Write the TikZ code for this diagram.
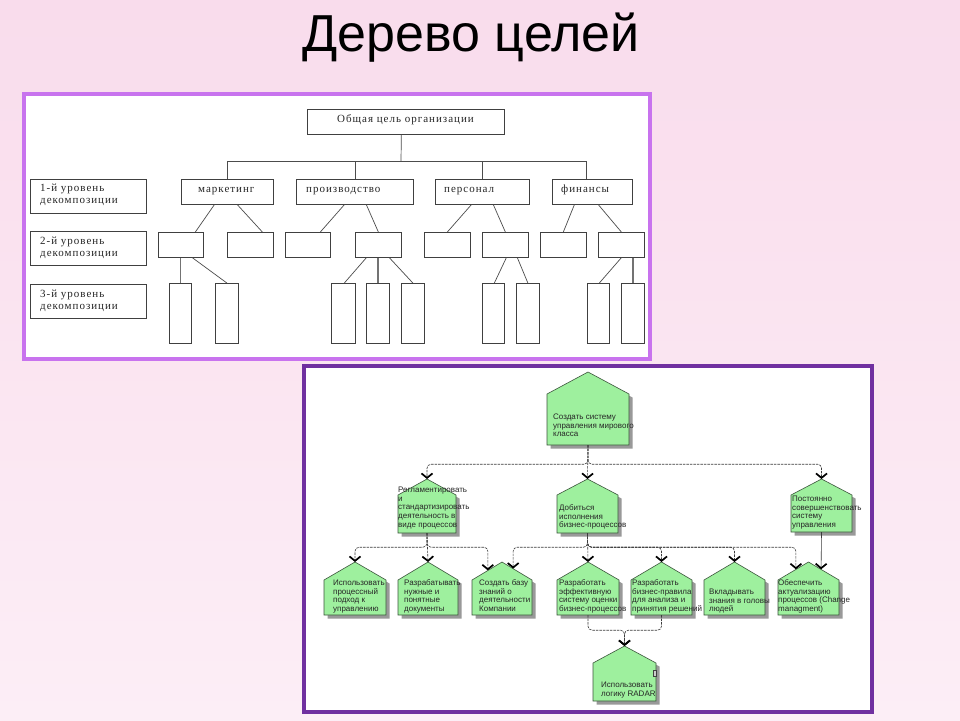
\documentclass[tikz,border=0pt]{standalone}
\usepackage{fontspec}
\setmainfont{Liberation Sans}
\newfontfamily\serf[LetterSpace=9]{Liberation Serif}
\usetikzlibrary{arrows.meta,calc}

\definecolor{bgtop}{RGB}{249,220,236}
\definecolor{bgbot}{RGB}{252,238,246}
\definecolor{frameA}{RGB}{200,115,238}
\definecolor{frameB}{RGB}{112,48,160}
\definecolor{hgreen}{RGB}{158,240,158}
\definecolor{hedge}{RGB}{60,85,60}
\definecolor{lineg}{RGB}{60,60,60}

\tikzset{
 tbox/.style={draw=black!75, line width=0.7pt, fill=white, inner sep=0pt, anchor=north west},
 tline/.style={draw=black!70, line width=0.7pt},
 tvert/.style={draw=black!55, line width=1.6pt},
 stext/.style={font=\serf\fontsize{11}{12}\selectfont, inner sep=0pt, align=left, anchor=north west, text=black!85},
 btext/.style={font=\fontsize{8}{8.8}\selectfont, inner sep=0pt, align=left, anchor=north west, text=black!85},
 hshadow/.style={fill=black!40},
 hbody/.style={fill=hgreen, draw=hedge, line width=0.6pt},
 tipv/.style={-{Straight Barb[length=4.5pt,width=11pt,line width=1.7pt,color=black]}},
 conn/.style={draw=lineg, line width=0.6pt, dash pattern=on 2.5pt off 1pt, rounded corners=4pt, tipv},
 connsolid/.style={draw=lineg, line width=0.6pt, tipv},
}

% top-diagram box: name, x1, y1, x2, y2
\newcommand\tb[5]{\node[tbox, minimum width={#4-#2}, minimum height={#5-#3}] (#1) at (#2,#3) {};}
% serif text: name, x, y of first line centre, text
\newcommand\st[4]{\node[stext] (#1) at (#2,#3-6.2) {\rule{0pt}{8.8pt}#4};}
% sans text for houses
\newcommand\bt[4]{\node[btext] (#1) at (#2,#3-4.4) {\rule{0pt}{6.4pt}#4};}
% house: name, left, right, apex y, eaves y, bottom y
\newcommand\house[6]{%
  \fill[hshadow] (#2+3.5,#5+3.5) -- ({(#2+#3)/2+3.5},#4+3.5) -- (#3+3.5,#5+3.5) -- (#3+3.5,#6+3.5) -- (#2+3.5,#6+3.5) -- cycle;
  \filldraw[hbody] (#2,#5) -- ({(#2+#3)/2},#4) -- (#3,#5) -- (#3,#6) -- (#2,#6) -- cycle;
  \node[inner sep=0pt, minimum width={#3-#2}, minimum height={#6-#5}] (#1) at ({(#2+#3)/2},{(#5+#6)/2}) {};
  \coordinate (#1-apex) at ({(#2+#3)/2},#4);
}

\begin{document}
\begin{tikzpicture}[x=1pt,y=-1pt]
\useasboundingbox (0,0) rectangle (960,720);
\shade[top color=bgtop, bottom color=bgbot] (0,0) rectangle (960,720);

% title
\node[font=\fontsize{52}{60}\selectfont, anchor=base, inner sep=0pt] (title) at (471,51.5) {Дерево целей};

% frames
\draw[line width=4pt, draw=frameA, fill=white] (24,94) rectangle (650,359);
\draw[line width=4pt, draw=frameB, fill=white] (304,366) rectangle (872,712);

% ---------- top diagram ----------
\tb{goal}{307}{109}{504}{134}
\tb{lab1}{30}{179}{146}{213}
\tb{lab2}{30}{231}{146}{265}
\tb{lab3}{30}{284}{146}{318}
\tb{mark}{181}{179}{273}{204}
\tb{prod}{296}{179}{413}{204}
\tb{pers}{435}{179}{529}{204}
\tb{fin}{552}{179}{632}{204}
\tb{s1}{158}{232}{203}{257}
\tb{s2}{227}{232}{273}{257}
\tb{s3}{285}{232}{330}{257}
\tb{s4}{355}{232}{401}{257}
\tb{s5}{424}{232}{470}{257}
\tb{s6}{482}{232}{528}{257}
\tb{s7}{540}{232}{586}{257}
\tb{s8}{598}{232}{644}{257}
\tb{t1}{169}{283}{191}{343}
\tb{t2}{215}{283}{238}{343}
\tb{t3}{331}{283}{355}{343}
\tb{t4}{366}{283}{389}{343}
\tb{t5}{401}{283}{424}{343}
\tb{t6}{482}{283}{504}{343}
\tb{t7}{516}{283}{539}{343}
\tb{t8}{587}{283}{609}{343}
\tb{t9}{621}{283}{644}{343}

\st{goaltx}{337}{120}{Общая цель организации}
\st{marktx}{198}{190}{маркетинг}
\st{prodtx}{306}{190}{производство}
\st{perstx}{444}{190}{персонал}
\st{fintx}{561}{190}{финансы}
\st{lab1tx}{40}{189}{1-й уровень\\декомпозиции}
\st{lab2tx}{40}{242}{2-й уровень\\декомпозиции}
\st{lab3tx}{40}{295}{3-й уровень\\декомпозиции}

\coordinate (bus) at (401,161);
\draw[tline] ([xshift=-4.5pt]goal.south) -- (bus);
\draw[tline] (mark.north) |- (bus);
\draw[tline] (prod.north) -- (prod.north |- bus);
\draw[tline] (pers.north) |- (bus);
\draw[tline] ([xshift=-6pt]fin.north) |- (bus);

\draw[tline] ([xshift=-13pt]mark.south) -- ([xshift=14.5pt]s1.north);
\draw[tline] ([xshift=10pt]mark.south) -- ([xshift=12pt]s2.north);
\draw[tline] ([xshift=-10.5pt]prod.south) -- ([xshift=12.5pt]s3.north);
\draw[tline] ([xshift=11.5pt]prod.south) -- (s4.north);
\draw[tline] ([xshift=-11pt]pers.south) -- (s5.north);
\draw[tline] ([xshift=11pt]pers.south) -- (s6.north);
\draw[tline] ([xshift=-18pt]fin.south) -- (s7.north);
\draw[tline] ([xshift=6pt]fin.south) -- (s8.north);

\draw[tvert] (t1.north) -- (t1.north |- s1.south);
\draw[tline] ([xshift=11.5pt]s1.south) -- (t2.north);
\draw[tline] ([xshift=-12pt]s4.south) -- ([xshift=1pt]t3.north);
\draw[tvert] (t4.north) -- (t4.north |- s4.south);
\draw[tline] ([xshift=11pt]s4.south) -- (t5.north);
\draw[tline] ([xshift=1pt]s6.south) -- ([xshift=1pt]t6.north);
\draw[tline] ([xshift=12pt]s6.south) -- (t7.north);
\draw[tline] (s8.south) -- ([xshift=1pt]t8.north);
\draw[tvert] (t9.north) -- (t9.north |- s8.south);

% ---------- bottom diagram ----------
\house{T}{547}{629}{372}{394}{445}
\house{La}{398}{456}{479}{495}{533}
\house{Lb}{557}{618}{479}{495}{533}
\house{Lc}{791}{852}{479}{495}{532}
\house{A}{324}{386}{562}{580}{615}
\house{B}{398}{458}{562}{580}{615}
\house{C}{472}{532}{562}{580}{615}
\house{D}{557}{619}{562}{580}{615}
\house{E}{631}{692}{562}{580}{615}
\house{F}{704}{765}{562}{580}{615}
\house{G}{778}{839}{562}{580}{615}
\house{R}{593}{656}{646}{663}{701}
\draw[black!75, line width=0.5pt, fill=black!20] (653,670) rectangle (656.5,676);

\bt{Ttx}{553}{417}{Создать систему\\управления мирового\\класса}
\bt{Latx}{398}{490}{Регламентировать\\и\\стандартизировать\\деятельность в\\виде процессов}
\bt{Lbtx}{559}{508}{Добиться\\исполнения\\бизнес-процессов}
\bt{Lctx}{792}{499}{Постоянно\\совершенствовать\\систему\\управления}
\bt{Atx}{333}{583}{Использовать\\процессный\\подход к\\управлению}
\bt{Btx}{404}{583}{Разрабатывать\\нужные и\\понятные\\документы}
\bt{Ctx}{479}{583}{Создать базу\\знаний о\\деятельности\\Компании}
\bt{Dtx}{559}{583}{Разработать\\эффективную\\систему оценки\\бизнес-процессов}
\bt{Etx}{632}{583}{Разработать\\бизнес-правила\\для анализа и\\принятия решений}
\bt{Ftx}{709}{592}{Вкладывать\\знания в головы\\людей}
\bt{Gtx}{778}{583}{Обеспечить\\актуализацию\\процессов (Change\\managment)}
\bt{Rtx}{601}{685}{Использовать\\логику RADAR}

\coordinate (Cl) at ($(C-apex)!0.47!(C.north west)$);
\coordinate (Cr) at ($(C-apex)!0.37!(C.north east)$);
\coordinate (Gl) at ($(G-apex)!0.41!(G.north west)$);
\coordinate (Gr) at ($(G-apex)!0.41!(G.north east)$);

\draw[conn] (T.south) -- ++(0,19) -| (La-apex);
\draw[conn] (T.south) -- (Lb-apex);
\draw[conn] (T.south) -- ++(0,19) -| (Lc-apex);

\draw[conn] (La.south) -- ++(0,14) -| (A-apex);
\draw[conn] (La.south) -- (B-apex);
\draw[conn] (La.south) -- ++(0,14) -| (Cl);

\draw[conn] (Lb.south) -- ++(0,14) -| (Cr);
\draw[conn] (Lb.south) -- (D-apex);
\draw[conn] (Lb.south) -- ++(0,14) -| (E-apex);
\draw[conn] (Lb.south) -- ++(0,14) -| (F-apex);
\draw[conn] (Lb.south) -- ++(0,14) -| (Gl);

\draw[connsolid] (Lc.south) -- (Gr);

\draw[conn] (D.south) -- ++(0,15) -| (R-apex);
\draw[conn] (E.south) -- ++(0,15) -| (R-apex);
\end{tikzpicture}
\end{document}
